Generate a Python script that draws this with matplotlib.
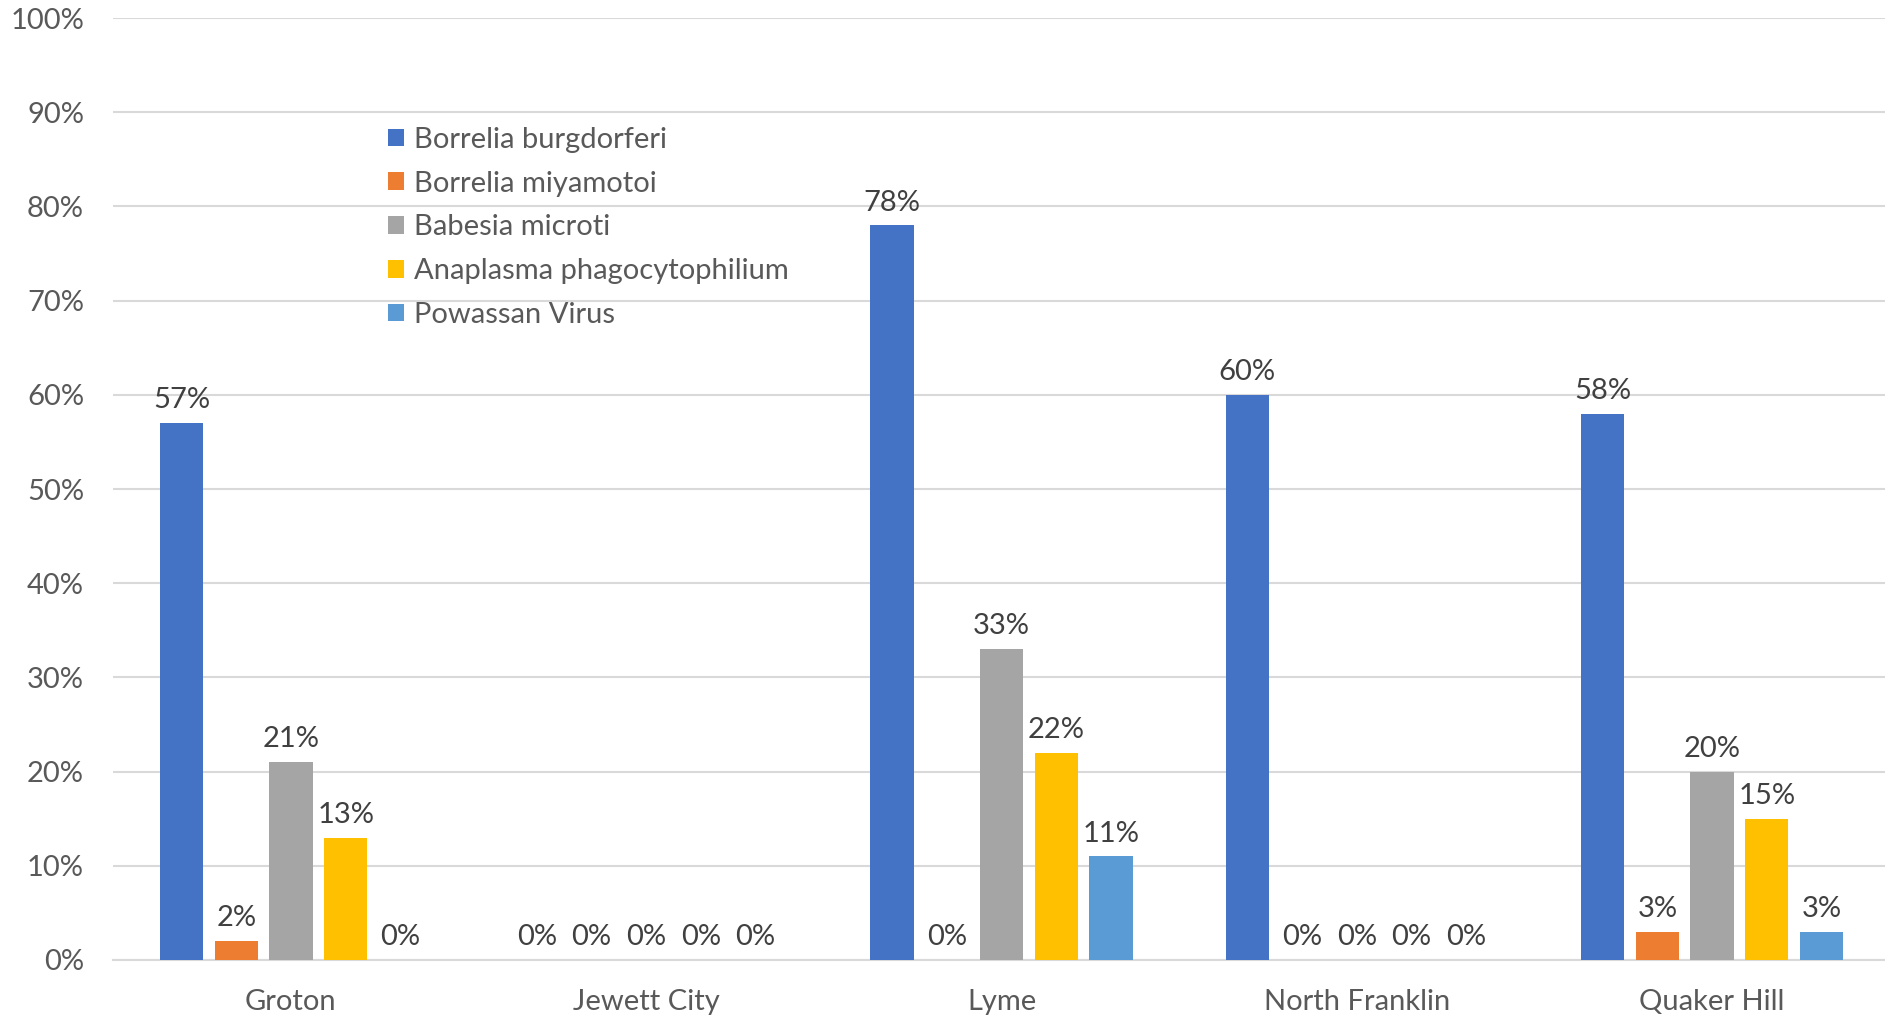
import matplotlib
matplotlib.use("Agg")
import matplotlib.pyplot as plt
import numpy as np
from matplotlib.ticker import FuncFormatter

plt.rcParams['font.family'] = ['Lato', 'DejaVu Sans']

categories = ["Groton", "Jewett City", "Lyme", "North Franklin", "Quaker Hill"]
series_names = ["Borrelia burgdorferi", "Borrelia miyamotoi", "Babesia microti",
                "Anaplasma phagocytophilium", "Powassan Virus"]
borrelia_burgdorferi = [57, 0, 78, 60, 58]
borrelia_miyamotoi = [2, 0, 0, 0, 3]
babesia_microti = [21, 0, 33, 0, 20]
anaplasma = [13, 0, 22, 0, 15]
powassan = [0, 0, 11, 0, 3]
series_values = [borrelia_burgdorferi, borrelia_miyamotoi, babesia_microti, anaplasma, powassan]
colors = ["#4472C4", "#ED7D31", "#A5A5A5", "#FFC000", "#5B9BD5"]

fig = plt.figure(figsize=(18.85, 10.19), dpi=100)
ax = fig.add_axes([0.0601, 0.0579, 0.9424, 0.9244])

x = np.arange(len(categories))
step = 0.154
width = 0.122
for i, (name, vals, c) in enumerate(zip(series_names, series_values, colors)):
    pos = x + (i - 2) * step
    ax.bar(pos, vals, width, color=c, label=name, zorder=3)
    for xp, v in zip(pos, vals):
        ax.annotate(f"{v}%", (xp, v), xytext=(0, 7), textcoords="offset points",
                    ha="center", va="bottom", fontsize=21, color="#404040")

ax.set_xlim(-0.5, len(categories) - 0.5)
ax.set_ylim(0, 100)
ax.set_yticks(range(0, 101, 10))
ax.yaxis.set_major_formatter(FuncFormatter(lambda v, p: f"{int(v)}%"))
ax.set_xticks(x)
ax.set_xticklabels(categories)
ax.grid(axis="y", color="#D9D9D9", linewidth=1.5, zorder=0)
for s in ["top", "right", "left"]:
    ax.spines[s].set_visible(False)
ax.spines["bottom"].set_color("#D9D9D9")
ax.spines["bottom"].set_linewidth(1.5)
ax.tick_params(axis="both", length=0, labelsize=21, labelcolor="#595959")
ax.tick_params(axis="y", pad=21)
ax.tick_params(axis="x", pad=21)

leg = ax.legend(loc="upper left", bbox_to_anchor=(0.148, 0.897), frameon=False,
                fontsize=21, labelcolor="#595959", handlelength=0.55, handleheight=0.55,
                handletextpad=0.35, labelspacing=0.61, borderaxespad=0)

fig.savefig("out.png", dpi=100, facecolor="white")
